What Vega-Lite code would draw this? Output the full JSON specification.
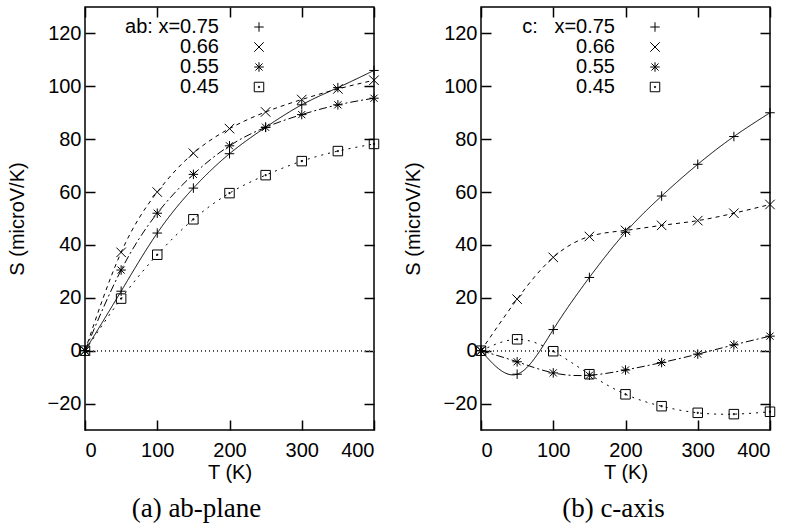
{
  "$schema": "https://vega.github.io/schema/vega-lite/v6.json",
  "padding": {"left": 6, "top": 5, "right": 0, "bottom": 0},
  "spacing": 20,
  "background": "white",
  "datasets": {
    "ab": [
      {"x": "0.75", "T": 0, "S": 0}, {"x": "0.75", "T": 50, "S": 22.5}, {"x": "0.75", "T": 100, "S": 44.5}, {"x": "0.75", "T": 150, "S": 61.5}, {"x": "0.75", "T": 200, "S": 74.5}, {"x": "0.75", "T": 250, "S": 84.5}, {"x": "0.75", "T": 300, "S": 93}, {"x": "0.75", "T": 350, "S": 99.5}, {"x": "0.75", "T": 400, "S": 106},
      {"x": "0.66", "T": 0, "S": 0}, {"x": "0.66", "T": 50, "S": 37.2}, {"x": "0.66", "T": 100, "S": 60}, {"x": "0.66", "T": 150, "S": 74.7}, {"x": "0.66", "T": 200, "S": 84}, {"x": "0.66", "T": 250, "S": 90.3}, {"x": "0.66", "T": 300, "S": 95}, {"x": "0.66", "T": 350, "S": 99}, {"x": "0.66", "T": 400, "S": 102.3},
      {"x": "0.55", "T": 0, "S": 0}, {"x": "0.55", "T": 50, "S": 30.5}, {"x": "0.55", "T": 100, "S": 52}, {"x": "0.55", "T": 150, "S": 66.7}, {"x": "0.55", "T": 200, "S": 77.5}, {"x": "0.55", "T": 250, "S": 84.5}, {"x": "0.55", "T": 300, "S": 89.3}, {"x": "0.55", "T": 350, "S": 93}, {"x": "0.55", "T": 400, "S": 95.5},
      {"x": "0.45", "T": 0, "S": 0}, {"x": "0.45", "T": 50, "S": 19.7}, {"x": "0.45", "T": 100, "S": 36.3}, {"x": "0.45", "T": 150, "S": 49.7}, {"x": "0.45", "T": 200, "S": 59.6}, {"x": "0.45", "T": 250, "S": 66.4}, {"x": "0.45", "T": 300, "S": 71.7}, {"x": "0.45", "T": 350, "S": 75.5}, {"x": "0.45", "T": 400, "S": 78.2}
    ],
    "c": [
      {"x": "0.75", "T": 0, "S": 0}, {"x": "0.75", "T": 50, "S": -8.9}, {"x": "0.75", "T": 100, "S": 8}, {"x": "0.75", "T": 150, "S": 27.7}, {"x": "0.75", "T": 200, "S": 44.8}, {"x": "0.75", "T": 250, "S": 58.5}, {"x": "0.75", "T": 300, "S": 70.5}, {"x": "0.75", "T": 350, "S": 81}, {"x": "0.75", "T": 400, "S": 90},
      {"x": "0.66", "T": 0, "S": 0}, {"x": "0.66", "T": 50, "S": 19.5}, {"x": "0.66", "T": 100, "S": 35.3}, {"x": "0.66", "T": 150, "S": 43.2}, {"x": "0.66", "T": 200, "S": 45.5}, {"x": "0.66", "T": 250, "S": 47.4}, {"x": "0.66", "T": 300, "S": 49.2}, {"x": "0.66", "T": 350, "S": 52}, {"x": "0.66", "T": 400, "S": 55.3},
      {"x": "0.55", "T": 0, "S": 0}, {"x": "0.55", "T": 50, "S": -4.2}, {"x": "0.55", "T": 100, "S": -8.4}, {"x": "0.55", "T": 150, "S": -9.3}, {"x": "0.55", "T": 200, "S": -7.3}, {"x": "0.55", "T": 250, "S": -4.5}, {"x": "0.55", "T": 300, "S": -1.3}, {"x": "0.55", "T": 350, "S": 2.2}, {"x": "0.55", "T": 400, "S": 5.5},
      {"x": "0.45", "T": 0, "S": 0}, {"x": "0.45", "T": 50, "S": 4.3}, {"x": "0.45", "T": 100, "S": -0.2}, {"x": "0.45", "T": 150, "S": -8.9}, {"x": "0.45", "T": 200, "S": -16.5}, {"x": "0.45", "T": 250, "S": -21}, {"x": "0.45", "T": 300, "S": -23.5}, {"x": "0.45", "T": 350, "S": -24}, {"x": "0.45", "T": 400, "S": -23.1}
    ]
  },
  "resolve": {"scale": {"shape": "independent", "strokeDash": "independent"}, "legend": {"shape": "independent"}},
  "hconcat": [
    {
      "width": 289, "height": 423,
      "data": {"name": "ab"},
      "title": {"text": "(a) ab-plane", "orient": "bottom", "dx": -33},
      "resolve": {"axis": {"x": "independent", "y": "independent"}},
      "layer": [
        {"mark": {"type": "rule", "strokeDash": [1, 3], "color": "#555", "strokeWidth": 1}, "encoding": {"y": {"datum": 0, "type": "quantitative", "scale": {"domain": [-30, 130], "nice": false}, "axis": null}}},
        {"mark": {"type": "line", "interpolate": "natural", "color": "black", "strokeWidth": 1},
         "encoding": {
           "x": {"field": "T", "type": "quantitative", "scale": {"domain": [0, 400], "nice": false}, "axis": null},
           "y": {"field": "S", "type": "quantitative", "scale": {"domain": [-30, 130], "nice": false}, "axis": null},
           "strokeDash": {"field": "x", "type": "nominal", "scale": {"domain": ["0.45", "0.55", "0.66", "0.75"], "range": [[2, 5], [8, 3, 2, 3], [4, 4], [1, 0]]}, "legend": null}}},
        {"mark": {"type": "point", "filled": false, "color": "black", "strokeWidth": 1, "size": 90, "opacity": 1},
         "encoding": {
           "x": {"field": "T", "type": "quantitative", "scale": {"domain": [0, 400], "nice": false}, "axis": {"orient": "bottom", "title": "T (K)", "values": [0, 100, 200, 300, 400], "tickSize": -10, "labelPadding": 20, "titlePadding": 2}},
           "y": {"field": "S", "type": "quantitative", "scale": {"domain": [-30, 130], "nice": false}, "axis": {"orient": "left", "title": "S (microV/K)", "values": [-20, 0, 20, 40, 60, 80, 100, 120], "tickSize": -10, "labelPadding": 14, "titlePadding": 20}},
           "shape": {"field": "x", "type": "nominal", "scale": {"domain": ["0.75", "0.66", "0.55", "0.45"], "range": ["M-1,0L1,0M0,-1L0,1", "M-1,-1L1,1M-1,1L1,-1", "M-1,0L1,0M0,-1L0,1M-0.75,-0.75L0.75,0.75M-0.75,0.75L0.75,-0.75", "M-1,-1L1,-1L1,1L-1,1Z M-0.12,-0.12L0.12,-0.12L0.12,0.12L-0.12,0.12Z"]},
             "legend": {"orient": "none", "legendX": 164, "legendY": 10, "title": null, "padding": 0, "labelAlign": "right", "labelOffset": -50, "symbolOffset": 0, "rowPadding": 0, "symbolSize": 90, "symbolStrokeWidth": 1, "symbolStrokeColor": "black", "labelFont": "Liberation Sans", "labelFontSize": 20, "labelColor": "black", "labelExpr": "datum.label == '0.75' ? 'ab: x=0.75' : datum.label"}}}},
        {"mark": {"type": "point", "opacity": 0},
         "encoding": {
           "x": {"field": "T", "type": "quantitative", "scale": {"domain": [0, 400], "nice": false}, "axis": {"orient": "top", "title": null, "labels": false, "values": [0, 100, 200, 300, 400], "tickSize": -10}},
           "y": {"field": "S", "type": "quantitative", "scale": {"domain": [-30, 130], "nice": false}, "axis": {"orient": "right", "title": null, "labels": false, "values": [-20, 0, 20, 40, 60, 80, 100, 120], "tickSize": -10}}}}
      ]
    },
    {
      "width": 289, "height": 423,
      "data": {"name": "c"},
      "title": {"text": "(b) c-axis", "orient": "bottom", "dx": -12},
      "resolve": {"axis": {"x": "independent", "y": "independent"}},
      "layer": [
        {"mark": {"type": "rule", "strokeDash": [1, 3], "color": "#555", "strokeWidth": 1}, "encoding": {"y": {"datum": 0, "type": "quantitative", "scale": {"domain": [-30, 130], "nice": false}, "axis": null}}},
        {"mark": {"type": "line", "interpolate": "natural", "color": "black", "strokeWidth": 1},
         "encoding": {
           "x": {"field": "T", "type": "quantitative", "scale": {"domain": [0, 400], "nice": false}, "axis": null},
           "y": {"field": "S", "type": "quantitative", "scale": {"domain": [-30, 130], "nice": false}, "axis": null},
           "strokeDash": {"field": "x", "type": "nominal", "scale": {"domain": ["0.45", "0.55", "0.66", "0.75"], "range": [[2, 5], [8, 3, 2, 3], [4, 4], [1, 0]]}, "legend": null}}},
        {"mark": {"type": "point", "filled": false, "color": "black", "strokeWidth": 1, "size": 90, "opacity": 1},
         "encoding": {
           "x": {"field": "T", "type": "quantitative", "scale": {"domain": [0, 400], "nice": false}, "axis": {"orient": "bottom", "title": "T (K)", "values": [0, 100, 200, 300, 400], "tickSize": -10, "labelPadding": 20, "titlePadding": 2}},
           "y": {"field": "S", "type": "quantitative", "scale": {"domain": [-30, 130], "nice": false}, "axis": {"orient": "left", "title": "S (microV/K)", "values": [-20, 0, 20, 40, 60, 80, 100, 120], "tickSize": -10, "labelPadding": 14, "titlePadding": 20}},
           "shape": {"field": "x", "type": "nominal", "scale": {"domain": ["0.75", "0.66", "0.55", "0.45"], "range": ["M-1,0L1,0M0,-1L0,1", "M-1,-1L1,1M-1,1L1,-1", "M-1,0L1,0M0,-1L0,1M-0.75,-0.75L0.75,0.75M-0.75,0.75L0.75,-0.75", "M-1,-1L1,-1L1,1L-1,1Z M-0.12,-0.12L0.12,-0.12L0.12,0.12L-0.12,0.12Z"]},
             "legend": {"orient": "none", "legendX": 164, "legendY": 10, "title": null, "padding": 0, "labelAlign": "right", "labelOffset": -50, "symbolOffset": 0, "rowPadding": 0, "symbolSize": 90, "symbolStrokeWidth": 1, "symbolStrokeColor": "black", "labelFont": "Liberation Sans", "labelFontSize": 20, "labelColor": "black", "labelExpr": "datum.label == '0.75' ? 'c:\u00a0\u00a0\u00a0x=0.75' : datum.label"}}}},
        {"mark": {"type": "point", "opacity": 0},
         "encoding": {
           "x": {"field": "T", "type": "quantitative", "scale": {"domain": [0, 400], "nice": false}, "axis": {"orient": "top", "title": null, "labels": false, "values": [0, 100, 200, 300, 400], "tickSize": -10}},
           "y": {"field": "S", "type": "quantitative", "scale": {"domain": [-30, 130], "nice": false}, "axis": {"orient": "right", "title": null, "labels": false, "values": [-20, 0, 20, 40, 60, 80, 100, 120], "tickSize": -10}}}}
      ]
    }
  ],
  "config": {
    "view": {"stroke": "black", "strokeWidth": 1.5},
    "axis": {"grid": false, "domain": false, "tickColor": "black", "tickWidth": 1.5, "labelFont": "Liberation Sans", "labelFontSize": 20, "labelColor": "black", "titleFont": "Liberation Sans", "titleFontSize": 20, "titleFontWeight": "normal", "titleColor": "black"},
    "title": {"font": "Liberation Serif", "fontSize": 27, "fontWeight": "normal", "color": "black", "offset": 14, "anchor": "middle"}
  }
}
